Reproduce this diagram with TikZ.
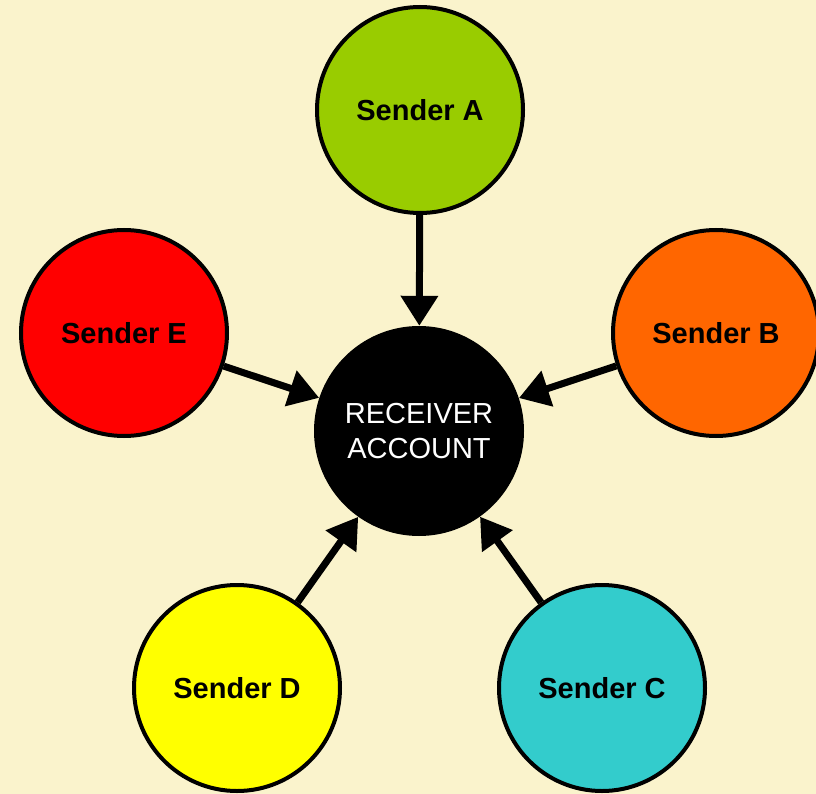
\documentclass[tikz,border=0pt]{standalone}
\usepackage{fontspec}
\setmainfont{Liberation Sans}
\usetikzlibrary{arrows.meta}
\definecolor{bgc}{HTML}{FAF3CC}
\definecolor{cA}{HTML}{99CC00}
\definecolor{cB}{HTML}{FF6600}
\definecolor{cC}{HTML}{33CCCC}
\definecolor{cD}{HTML}{FFFF00}
\definecolor{cE}{HTML}{FF0000}
\begin{document}
\begin{tikzpicture}[x=1pt,y=-1pt,
  sender/.style={circle,draw=black,line width=4pt,minimum size=206pt,inner sep=0pt,
    font=\fontsize{29}{33}\selectfont\bfseries},
  recv/.style={circle,fill=black,minimum size=210pt,inner sep=0pt,text=white,align=center,
    font=\fontsize{29}{35}\selectfont},
  conn/.style={line width=7pt,-{Triangle[length=30pt,width=36pt]}}]
\fill[bgc] (0,0) rectangle (816,794);
\useasboundingbox (0,0) rectangle (816,794);
\node[recv] (R) at (419,431) {RECEIVER\\ACCOUNT};
\node[sender,fill=cA] (A) at (420,110) {Sender A};
\node[sender,fill=cB] (B) at (716,333) {Sender B};
\node[sender,fill=cC] (C) at (602,688) {Sender C};
\node[sender,fill=cD] (D) at (237,688) {Sender D};
\node[sender,fill=cE] (E) at (124,333) {Sender E};
\draw[conn] (A) -- (R);
\draw[conn] (B) -- (R);
\draw[conn] (C) -- (R);
\draw[conn] (D) -- (R);
\draw[conn] (E) -- (R);
\end{tikzpicture}
\end{document}
